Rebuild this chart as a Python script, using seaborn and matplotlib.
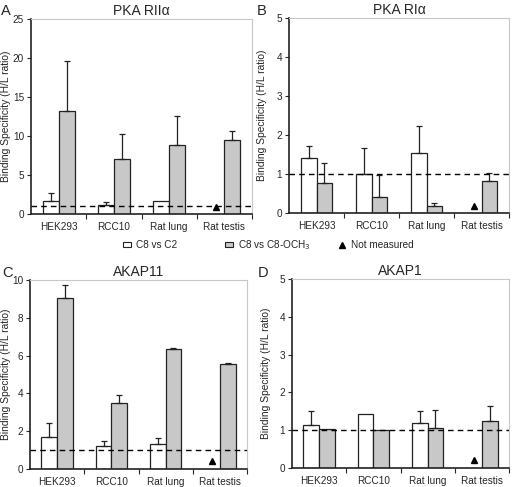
import numpy as np
import pandas as pd
import matplotlib
matplotlib.use("Agg")
import matplotlib.pyplot as plt
import seaborn as sns
from matplotlib.lines import Line2D
from matplotlib.patches import Patch

sns.set_style("ticks")
plt.rcParams['font.family'] = ['Liberation Sans', 'DejaVu Sans']

cells = ["HEK293", "RCC10", "Rat lung", "Rat testis"]
series = ["C8 vs C2", "C8 vs C8-OCH3"]

# panel A: PKA RIIalpha
a_c2 = [1.7, 1.1, 1.7, np.nan]
a_c2_err = [2.7, 1.6, 1.7, np.nan]
a_och = [13.2, 7.1, 8.8, 9.5]
a_och_err = [19.6, 10.2, 12.6, 10.7]
# panel B: PKA RIalpha
b_c2 = [1.42, 1.0, 1.55, np.nan]
b_c2_err = [1.72, 1.66, 2.22, np.nan]
b_och = [0.78, 0.4, 0.19, 0.83]
b_och_err = [1.27, 0.98, 0.26, 1.03]
# panel C: AKAP11
c_c2 = [1.67, 1.2, 1.33, np.nan]
c_c2_err = [2.42, 1.5, 1.63, np.nan]
c_och = [9.05, 3.5, 6.33, 5.57]
c_och_err = [9.72, 3.9, 6.42, 5.62]
# panel D: AKAP1
d_c2 = [1.15, 1.44, 1.2, np.nan]
d_c2_err = [1.5, 1.44, 1.5, np.nan]
d_och = [1.03, 1.0, 1.05, 1.25]
d_och_err = [1.03, 1.0, 1.53, 1.64]

panels = [
    ("A", "PKA RII\u03b1", a_c2, a_c2_err, a_och, a_och_err, 25, 5, 0.9),
    ("B", "PKA RI\u03b1", b_c2, b_c2_err, b_och, b_och_err, 5, 1, 0.17),
    ("C", "AKAP11", c_c2, c_c2_err, c_och, c_och_err, 10, 2, 0.42),
    ("D", "AKAP1", d_c2, d_c2_err, d_och, d_och_err, 5, 1, 0.2),
]
W, H = 512, 487
# layout in pixels: left, top, right, bottom, label right edge x, letter x, letter baseline y
layout = [
    (31, 19, 252, 214, 11, 1, 15),
    (289, 18, 509, 213, 267, 257, 15),
    (30, 280, 247, 469, 11, 2, 277),
    (292, 279, 509, 468, 271, 258, 277),
]

GRAY = "#c8c8c8"
fig = plt.figure(figsize=(5.12, 4.87), dpi=100)

for (letter, title, c2, c2e, och, oche, ymax, ystep, tri_y), (l, t, r, b, lx, ltx, lty) in zip(panels, layout):
    ax = fig.add_axes([l / W, 1 - b / H, (r - l) / W, (b - t) / H])
    df = pd.DataFrame({
        "cell": cells * 2,
        "series": [series[0]] * 4 + [series[1]] * 4,
        "value": list(c2) + list(och),
        "upper": list(c2e) + list(oche),
    })
    sns.barplot(data=df.dropna(), x="cell", y="value", hue="series", order=cells,
                hue_order=series, palette=["white", GRAY], edgecolor="#222222",
                linewidth=0.9, width=0.58, errorbar=None, legend=False, ax=ax)
    bw = None
    for i, s in enumerate(series):
        sub = df[df.series == s].reset_index(drop=True)
        for bar in ax.containers[i]:
            xc = bar.get_x() + bar.get_width() / 2
            bw = bar.get_width()
            k = int(round(xc))
            v = sub.loc[k, "value"]
            u = sub.loc[k, "upper"]
            if np.isnan(v) or u <= v:
                continue
            ax.errorbar([xc], [v], yerr=[[0], [u - v]], fmt="none",
                        ecolor="#222222", elinewidth=0.9, capsize=2.5, capthick=0.9, zorder=1)
    # not measured marker
    for k, v in enumerate(c2):
        if np.isnan(v):
            gbar = [bb for bb in ax.containers[1] if int(round(bb.get_x() + bb.get_width() / 2)) == k][0]
            xm = gbar.get_x() + gbar.get_width() / 2 - bw
            ax.plot([xm], [tri_y], marker="^", color="black", markersize=5, ls="none", zorder=5)
    ax.axhline(1, color="black", lw=1, ls=(0, (4, 3)), zorder=4)
    ax.set_xlim(-0.5, 3.5)
    ax.set_ylim(0, ymax)
    ax.set_yticks(np.arange(0, ymax + 0.01, ystep))
    ax.set_yticklabels([f"{int(tv)}" for tv in np.arange(0, ymax + 0.01, ystep)], fontsize=7.2)
    ax.set_xticks(range(4))
    ax.set_xticklabels(cells, fontsize=7.2)
    ax.set_xticks([0.5, 1.5, 2.5, 3.5], minor=True)
    ax.tick_params(axis="x", which="major", length=0, pad=6)
    ax.tick_params(axis="x", which="minor", length=3.5, width=0.8)
    ax.tick_params(axis="y", length=3, width=0.8, pad=2)
    ax.set_xlabel("")
    ax.set_ylabel("Binding Specificity (H/L ratio)", fontsize=7.4)
    ax.yaxis.set_label_coords((lx - l) / (r - l), 0.5)
    ax.set_title(title, fontsize=10, pad=3)
    for sp in ["left", "bottom"]:
        ax.spines[sp].set_color("#222222")
        ax.spines[sp].set_linewidth(1.2)
    for sp in ["top", "right"]:
        ax.spines[sp].set_visible(True)
        ax.spines[sp].set_color("#c8c8c8")
        ax.spines[sp].set_linewidth(0.8)
    fig.text(ltx / W, 1 - lty / H, letter, fontsize=10.5, va="baseline", ha="left")

handles = [
    Patch(facecolor="white", edgecolor="#222222", linewidth=0.8),
    Patch(facecolor=GRAY, edgecolor="#222222", linewidth=0.8),
    Line2D([], [], marker="^", color="black", ls="none", markersize=5),
]
labels = ["C8 vs C2", "C8 vs C8-OCH$_3$", "Not measured"]
xs = [123, 225, 338]
for h, lab, x0 in zip(handles, labels, xs):
    fig.legend([h], [lab], loc="center left", bbox_to_anchor=(x0 / W, 1 - 245 / H),
               frameon=False, fontsize=7.2, handlelength=0.8, handleheight=0.4,
               handletextpad=0.5, borderpad=0, borderaxespad=0)

fig.savefig("out.png", dpi=100)
